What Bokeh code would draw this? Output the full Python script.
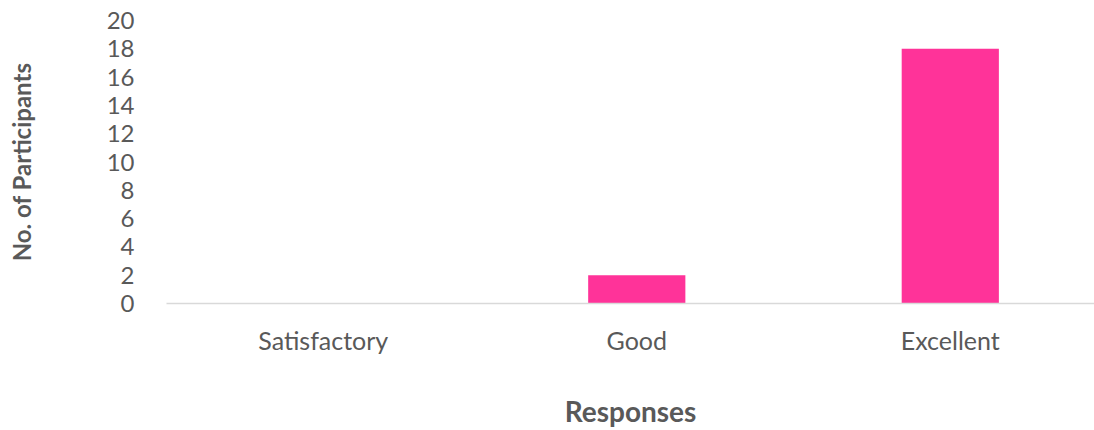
from bokeh.plotting import figure
from bokeh.embed import file_html
from bokeh.resources import INLINE
from bokeh.models import FixedTicker, ColumnDataSource

categories = ["Satisfactory", "Good", "Excellent"]
participants = [0, 2, 18]
y_ticks = [0, 2, 4, 6, 8, 10, 12, 14, 16, 18, 20]

xpos = [i + 0.5 for i in range(len(categories))]
src = ColumnDataSource(dict(x=xpos, val=participants))

p = figure(x_range=(0, 2.96), y_range=(0, 20), width=1094, height=430,
           output_backend="svg", toolbar_location=None,
           min_border_left=166, min_border_right=0, min_border_top=20, min_border_bottom=126)
p.vbar(x="x", top="val", width=0.31, source=src, fill_color="#FF3399", line_color=None)

p.xgrid.visible = False
p.ygrid.visible = False
p.outline_line_color = None

font = "Lato"
txt = "#595959"

p.yaxis.ticker = FixedTicker(ticks=y_ticks)
p.yaxis.axis_line_color = None
p.yaxis.major_tick_line_color = None
p.yaxis.minor_tick_line_color = None
p.yaxis.major_label_text_font = font
p.yaxis.major_label_text_font_size = "24px"
p.yaxis.major_label_text_color = txt
p.yaxis.major_label_standoff = 26
p.yaxis.axis_label = "No. of Participants"
p.yaxis.axis_label_text_font = font
p.yaxis.axis_label_text_font_style = "bold"
p.yaxis.axis_label_text_font_size = "24px"
p.yaxis.axis_label_text_color = txt
p.yaxis.axis_label_standoff = 68

p.xaxis.ticker = FixedTicker(ticks=xpos)
p.xaxis.major_label_overrides = {x: c for x, c in zip(xpos, categories)}
p.xaxis.axis_line_color = "#D9D9D9"
p.xaxis.axis_line_width = 1.5
p.xaxis.major_tick_line_color = None
p.xaxis.minor_tick_line_color = None
p.xaxis.major_label_text_font = font
p.xaxis.major_label_text_font_size = "25px"
p.xaxis.major_label_text_color = txt
p.xaxis.major_label_standoff = 15
p.xaxis.axis_label = "Responses"
p.xaxis.axis_label_text_font = font
p.xaxis.axis_label_text_font_style = "bold"
p.xaxis.axis_label_text_font_size = "28px"
p.xaxis.axis_label_text_color = txt
p.xaxis.axis_label_standoff = 36

open("out.html", "w").write(file_html(p, INLINE))
